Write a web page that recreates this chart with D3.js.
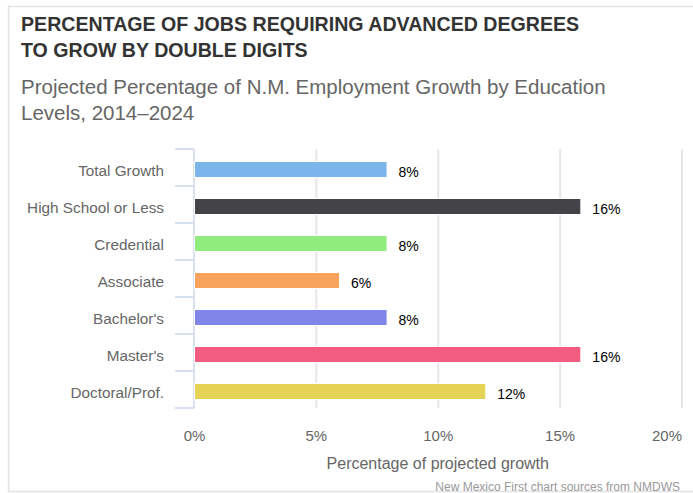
<!DOCTYPE html>
<html><head><meta charset="utf-8">
<script src="https://cdn.jsdelivr.net/npm/d3@7"></script>
<style>body{margin:0;background:#fff}svg{display:block;font-family:"Liberation Sans",Arial,sans-serif}</style>
</head><body><svg id="c" width="693" height="493"></svg>
<script>
const categories = ["Total Growth","High School or Less","Credential","Associate","Bachelor's","Master's","Doctoral/Prof."];
const values = [7.9, 15.85, 7.9, 5.95, 7.9, 15.85, 11.95];
const labels = ["8%","16%","8%","6%","8%","16%","12%"];
const colors = ["#7cb5ec","#434348","#90ed7d","#f7a35c","#8085e9","#f15c80","#e4d354"];
const xTicks = [0,5,10,15,20];
const titleLines = ["PERCENTAGE OF JOBS REQUIRING ADVANCED DEGREES","TO GROW BY DOUBLE DIGITS"];
const subtitleLines = ["Projected Percentage of N.M. Employment Growth by Education","Levels, 2014\u20132024"];
const xTitle = "Percentage of projected growth";
const credit = "New Mexico First chart sources from NMDWS";

const svg = d3.select("#c");
svg.append("rect").attr("x",8.5).attr("y",6.5).attr("width",700).attr("height",485)
  .attr("fill","#fff").attr("stroke","#e3e3e3").attr("stroke-width",1.5);

const x = d3.scaleLinear().domain([0,20]).range([194,681.5]);
const y = d3.scaleBand().domain(categories).range([149,408]);

// title
svg.append("text").attr("x",21).attr("y",31).attr("fill","#333").attr("font-size",19.6).attr("font-weight","bold")
  .selectAll("tspan").data(titleLines).join("tspan").attr("x",21).attr("dy",(d,i)=>i?26:0).text(d=>d);
svg.append("text").attr("x",21).attr("y",94).attr("fill","#666").attr("font-size",20.5)
  .selectAll("tspan").data(subtitleLines).join("tspan").attr("x",21).attr("dy",(d,i)=>i?26:0).text(d=>d);

// x axis with gridlines
const xa = svg.append("g").attr("transform","translate(0,408)")
  .call(d3.axisBottom(x).tickValues(xTicks).tickFormat(d=>d+"%").tickSize(-259).tickPadding(22));
xa.select(".domain").remove();
xa.selectAll(".tick line").attr("stroke","#e6e6e6").attr("stroke-width",2);
xa.selectAll(".tick").filter(d=>d===0).select("line").remove();
xa.selectAll(".tick text").attr("fill","#666").attr("font-size",15).attr("font-family","Liberation Sans, Arial, sans-serif");
xa.selectAll(".tick").filter(d=>d===20).select("text").attr("text-anchor","end").attr("x",0);

// y axis
const ya = svg.append("g").attr("transform","translate(194,4)")
  .call(d3.axisLeft(y).tickSize(0).tickPadding(30));
ya.select(".domain").remove();
ya.selectAll(".tick text").attr("fill","#666").attr("font-size",15.3).attr("font-family","Liberation Sans, Arial, sans-serif");
const bounds = categories.map(c=>y(c)).concat([y.range()[1]]);
svg.append("g").selectAll("line").data(bounds).join("line")
  .attr("x1",175).attr("x2",194).attr("y1",d=>d).attr("y2",d=>d)
  .attr("stroke","#ccd6eb").attr("stroke-width",1.5);
svg.append("line").attr("x1",194).attr("x2",194).attr("y1",149).attr("y2",408)
  .attr("stroke","#ccd6eb").attr("stroke-width",1.5);

// bars
const bh = 16;
svg.append("g").selectAll("rect").data(values).join("rect")
  .attr("x",x(0)+0.5).attr("y",(d,i)=>y(categories[i])+y.bandwidth()/2+2-bh/2)
  .attr("width",d=>x(d)-x(0)).attr("height",bh)
  .attr("fill",(d,i)=>colors[i]).attr("stroke","#fff").attr("stroke-width",1);

svg.append("g").selectAll("text").data(values).join("text")
  .attr("x",d=>x(d)+12).attr("y",(d,i)=>y(categories[i])+y.bandwidth()/2+5).attr("dy","0.35em")
  .attr("font-size",14).attr("fill","#000").text((d,i)=>labels[i]);

svg.append("text").attr("x",x(10)).attr("y",469).attr("text-anchor","middle")
  .attr("fill","#666").attr("font-size",16).text(xTitle);
svg.append("text").attr("x",680).attr("y",491).attr("text-anchor","end")
  .attr("fill","#999").attr("font-size",12).text(credit);
</script></body></html>
